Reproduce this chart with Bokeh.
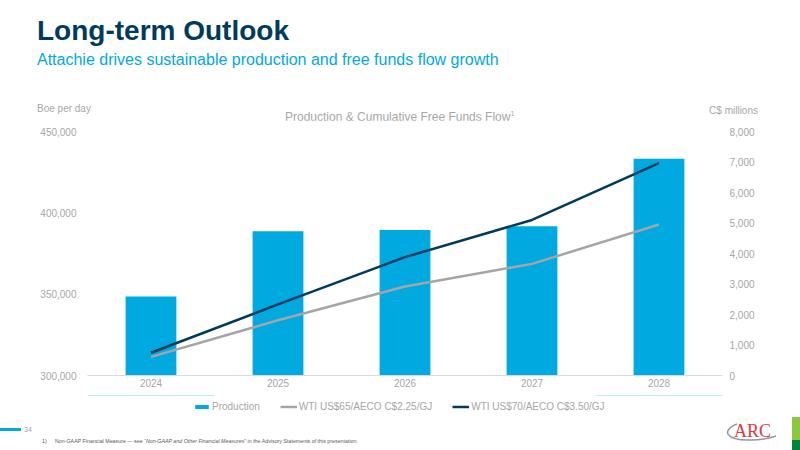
from bokeh.plotting import figure
from bokeh.models import (Range1d, FactorRange, LinearAxis, FixedTicker, NumeralTickFormatter,
                          Legend, LegendItem, Div)
from bokeh.layouts import column
from bokeh.embed import file_html
from bokeh.resources import INLINE

years = ["2024", "2025", "2026", "2027", "2028"]
production = [348600, 388700, 389500, 391800, 433200]
ffo_65 = [610, 1810, 2920, 3660, 4950]
ffo_70 = [745, 2330, 3880, 5100, 6960]
left_ticks = [300000, 350000, 400000, 450000]
right_ticks = [0, 1000, 2000, 3000, 4000, 5000, 6000, 7000, 8000]
series_names = ["Production", "WTI US$65/AECO C$2.25/GJ", "WTI US$70/AECO C$3.50/GJ"]

title = "Long-term Outlook"
subtitle = "Attachie drives sustainable production and free funds flow growth"
chart_title = "Production &amp; Cumulative Free Funds Flow"
left_unit = "Boe per day"
right_unit = "C$ millions"
page_no = "34"
footnote_a = "Non-GAAP Financial Measure \u2014 see \u201c"
footnote_b = "Non-GAAP and Other Financial Measures"
footnote_c = "\u201d in the Advisory Statements of this presentation."

FONT = "Liberation Sans"
GRAY = "#a6a6a6"
BLUE = "#00a9e0"
NAVY = "#003b5c"
LINEGRAY = "#a5a5a5"
W = 800

def span(text, left, cy, size, color, weight="normal", right=None, font=FONT, style=""):
    h = round(size * 1.4)
    pos = f"left:{left}px;" if right is None else f"right:{right}px;"
    return (f"<div style=\"position:absolute;{pos}top:{cy - h / 2:.1f}px;height:{h}px;"
            f"line-height:{h}px;font-family:'{font}';font-size:{size}px;color:{color};"
            f"font-weight:{weight};white-space:nowrap;{style}\">{text}</div>")

def box(html, height):
    return Div(text=f"<div style=\"position:relative;width:{W}px;height:{height}px;overflow:visible\">{html}</div>",
               width=W, height=height, margin=0)

# ---------- header (page y 0..120) ----------
hdr = "".join([
    span(title, 37, 30, 28, NAVY, weight="bold"),
    span(subtitle, 37, 59.5, 16, BLUE),
    span(left_unit, 37, 109, 10, GRAY),
    span(right_unit, 0, 110.5, 10, GRAY, right=W - 758),
    span(chart_title + "<sup style=\"font-size:7px;vertical-align:5px\">1</sup>", 285, 113, 12, GRAY),
])
header = box(hdr, 120)

# ---------- main chart (page y 120..395) ----------
p = figure(width=W, height=275, x_range=FactorRange(*years, range_padding=0),
           y_range=Range1d(300000, 450000), output_backend="svg", toolbar_location=None,
           min_border_left=87, min_border_right=78, min_border_top=11, min_border_bottom=20)
p.extra_y_ranges = {"ffo": Range1d(0, 8000)}
p.outline_line_color = None
p.grid.visible = False
p.background_fill_color = "white"
p.border_fill_color = "white"

p.vbar(x=years, top=production, bottom=300000, width=0.4, color=BLUE, line_color=None)
p.line(x=years, y=ffo_65, y_range_name="ffo", line_color=LINEGRAY, line_width=2.5)
p.line(x=years, y=ffo_70, y_range_name="ffo", line_color=NAVY, line_width=2.5)

def style_axis(a, standoff):
    a.major_tick_line_color = None
    a.major_tick_out = 0
    a.minor_tick_line_color = None
    a.major_label_text_color = GRAY
    a.major_label_text_font = FONT
    a.major_label_text_font_size = "10px"
    a.major_label_standoff = standoff

xa = p.xaxis[0]
style_axis(xa, 3)
xa.axis_line_color = "#d9d9d9"

ya = p.yaxis[0]
style_axis(ya, 11)
ya.ticker = FixedTicker(ticks=left_ticks)
ya.formatter = NumeralTickFormatter(format="0,0")
ya.axis_line_color = None

ra = LinearAxis(y_range_name="ffo", ticker=FixedTicker(ticks=right_ticks),
                formatter=NumeralTickFormatter(format="0,0"))
style_axis(ra, 7)
ra.axis_line_color = None
p.add_layout(ra, "right")

# ---------- legend strip (page y 395..417) ----------
# legend keys reuse the series, drawn out of this strip's visible range (only their legend swatches show)
idx = list(range(len(years)))
lg = figure(width=W, height=22, x_range=Range1d(0, 1), y_range=Range1d(0, 1),
            output_backend="svg", toolbar_location=None, min_border=0)
lg.axis.visible = False
lg.grid.visible = False
lg.outline_line_color = None
lg.background_fill_color = "white"
lg.border_fill_color = "white"
k1 = lg.vbar(x=idx, top=production, bottom=300000, width=0.4, color=BLUE, line_color=None)
k2 = lg.line(x=idx, y=ffo_65, line_color=LINEGRAY, line_width=2.5)
k3 = lg.line(x=idx, y=ffo_70, line_color=NAVY, line_width=2.5)
legend = Legend(items=[LegendItem(label=series_names[0], renderers=[k1]),
                       LegendItem(label=series_names[1], renderers=[k2]),
                       LegendItem(label=series_names[2], renderers=[k3])],
                location=(106, 5), orientation="horizontal")
legend.border_line_color = None
legend.background_fill_alpha = 0
legend.padding = 0
legend.margin = 0
legend.spacing = 20
legend.glyph_width = 17
legend.glyph_height = 5
legend.label_height = 12
legend.label_standoff = 2
legend.label_text_font = FONT
legend.label_text_font_size = "10px"
legend.label_text_color = GRAY
legend.label_text_baseline = "middle"
lg.add_layout(legend, "center")

# ---------- footer (page y 417..450) ----------
F0 = 417
swoosh = (f"<svg style=\"position:absolute;left:0;top:0\" width=\"{W}\" height=\"{450 - F0}\">"
          f"<path d=\"M 737 {424 - F0} C 721 {430 - F0}, 725 {441 - F0}, 752 {440 - F0} "
          f"C 762 {440 - F0}, 770 {438 - F0}, 776 {436 - F0}\" fill=\"none\" stroke=\"#8c99a3\" stroke-width=\"1.5\"/></svg>")
ftr = "".join([
    f"<div style=\"position:absolute;left:0;top:{428.3 - F0}px;width:21px;height:2.5px;background:{BLUE}\"></div>",
    span(page_no, 24, 430 - F0, 7, GRAY),
    span("1)", 42, 441 - F0, 5.3, "#595959"),
    span(f"{footnote_a}<i>{footnote_b}</i>{footnote_c}", 55, 441 - F0, 5.3, "#595959"),
    swoosh,
    span("ARC", 734, 431 - F0, 18, "#e0393e", font="Liberation Serif"),
    f"<div style=\"position:absolute;left:792px;top:0px;width:8px;height:{440 - F0}px;background:#8dc63f\"></div>",
    f"<div style=\"position:absolute;left:792px;top:{440 - F0}px;width:8px;height:10px;background:#00843d\"></div>",
])
footer = box(ftr, 450 - F0)

layout = column(header, p, lg, footer, spacing=0)
open("out.html", "w").write(file_html(layout, INLINE))
